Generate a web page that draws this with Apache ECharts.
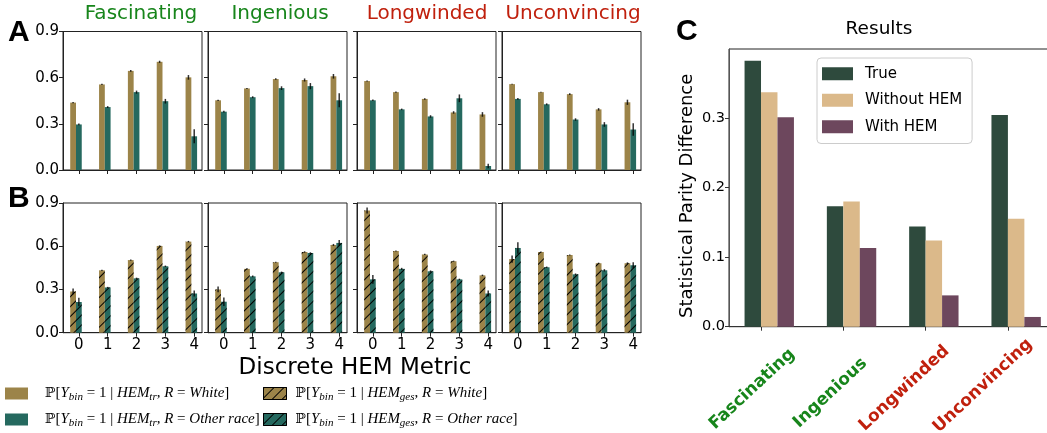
<!DOCTYPE html>
<html><head><meta charset="utf-8">
<script src="https://cdn.jsdelivr.net/npm/echarts@6/dist/echarts.min.js"></script>
<style>html,body{margin:0;padding:0;background:#fff}#c{width:1047px;height:433px}</style>
</head><body><div id="c"></div>
<script>
// ---------------- data ----------------
const hemLevels = [0, 1, 2, 3, 4];
const traits = ['Fascinating', 'Ingenious', 'Longwinded', 'Unconvincing'];
const yTicks = [0, 0.3, 0.6, 0.9];

// Panel A : P[Y=1 | HEM_tr, R]
const trWhite = [
  [0.438, 0.556, 0.644, 0.703, 0.602],
  [0.453, 0.530, 0.591, 0.585, 0.609],
  [0.578, 0.506, 0.462, 0.374, 0.361],
  [0.558, 0.506, 0.493, 0.394, 0.440]
];
const trOther = [
  [0.296, 0.409, 0.506, 0.447, 0.219],
  [0.379, 0.473, 0.532, 0.545, 0.453],
  [0.453, 0.394, 0.348, 0.466, 0.026],
  [0.462, 0.427, 0.328, 0.296, 0.263]
];
const trWhiteErr = [
  [0.004, 0.004, 0.006, 0.007, 0.015],
  [0.004, 0.003, 0.005, 0.010, 0.015],
  [0.003, 0.004, 0.005, 0.008, 0.015],
  [0.003, 0.003, 0.005, 0.008, 0.017]
];
const trOtherErr = [
  [0.006, 0.006, 0.010, 0.015, 0.045],
  [0.006, 0.006, 0.012, 0.020, 0.045],
  [0.005, 0.005, 0.008, 0.025, 0.015],
  [0.006, 0.006, 0.008, 0.015, 0.040]
];
// Panel B : P[Y=1 | HEM_ges, R]
const gesWhite = [
  [0.286, 0.433, 0.504, 0.602, 0.632],
  [0.300, 0.443, 0.489, 0.560, 0.609],
  [0.848, 0.567, 0.543, 0.496, 0.398],
  [0.511, 0.560, 0.539, 0.482, 0.482]
];
const gesOther = [
  [0.213, 0.314, 0.377, 0.461, 0.272],
  [0.215, 0.391, 0.419, 0.553, 0.623],
  [0.370, 0.443, 0.426, 0.370, 0.272],
  [0.588, 0.454, 0.405, 0.433, 0.468]
];
const gesWhiteErr = [
  [0.020, 0.004, 0.004, 0.004, 0.005],
  [0.020, 0.005, 0.003, 0.005, 0.007],
  [0.020, 0.004, 0.004, 0.004, 0.005],
  [0.025, 0.004, 0.004, 0.004, 0.006]
];
const gesOtherErr = [
  [0.030, 0.004, 0.005, 0.005, 0.020],
  [0.030, 0.006, 0.005, 0.005, 0.020],
  [0.030, 0.007, 0.006, 0.005, 0.020],
  [0.040, 0.005, 0.006, 0.008, 0.020]
];
// Panel C : statistical parity difference
const spdTrue = [0.382, 0.173, 0.144, 0.304];
const spdWithout = [0.337, 0.180, 0.124, 0.155];
const spdWith = [0.301, 0.113, 0.045, 0.014];
const cTicks = [0, 0.1, 0.2, 0.3];

// ---------------- styling ----------------
const COL_WHITE = '#9c8449', COL_OTHER = '#25695f';
const COL_TRUE = '#2e4a3d', COL_WITHOUT = '#dbb98a', COL_WITH = '#6d475d';
const GREEN = '#17851b', RED = '#c0200d';
const traitColor = [GREEN, GREEN, RED, RED];
const FONT = 'DejaVu Sans';

const colLeft = [63, 208, 357, 502];
const smallW = 139;
const xMin = -0.55, xMax = 4.27;
const pxPerUnit = smallW / (xMax - xMin);
const bw = 0.2 * pxPerUnit;
const rows = [{top: 31.5, height: 138.5}, {top: 203, height: 129.7}];

const hatch = {
  symbol: 'rect', symbolSize: 1, symbolKeepAspect: false,
  dashArrayX: [10, 0], dashArrayY: [1, 6], rotation: -Math.PI / 4, color: '#000'
};

const grids = [], xAxes = [], yAxes = [], series = [];

function errRender(params, api) {
  const x = api.value(0), y = api.value(1), e = api.value(2);
  const p1 = api.coord([x, y - e]), p2 = api.coord([x, y + e]);
  return {type: 'line', shape: {x1: p1[0], y1: p1[1], x2: p2[0], y2: p2[1]},
    style: {stroke: 'rgba(0,0,0,0.8)', lineWidth: 1.5}};
}

for (let r = 0; r < 2; r++) {
  for (let c = 0; c < 4; c++) {
    const gi = grids.length;
    grids.push({left: colLeft[c], width: smallW, top: rows[r].top, height: rows[r].height,
      show: true, borderColor: '#222', borderWidth: 1, containLabel: false, outerBoundsMode: 'none'});
    xAxes.push({type: 'value', gridIndex: gi, min: xMin, max: xMax,
      splitLine: {show: false},
      axisLine: {show: true, onZero: false, lineStyle: {color: '#222', width: 1}},
      axisTick: {show: true, length: 4, customValues: hemLevels, lineStyle: {color: '#222'}},
      axisLabel: {show: r === 1, customValues: hemLevels, margin: 5,
        fontFamily: FONT, fontSize: 15, color: '#000', formatter: v => String(v)}});
    yAxes.push({type: 'value', gridIndex: gi, min: 0, max: 0.9, interval: 0.3,
      splitLine: {show: false},
      axisLine: {show: true, onZero: false, lineStyle: {color: '#222', width: 1}},
      axisTick: {show: true, length: 4, lineStyle: {color: '#222'}},
      axisLabel: {show: c === 0, margin: 4, fontFamily: FONT, fontSize: 15, color: '#000',
        formatter: v => v.toFixed(1)}});
    const W = r === 0 ? trWhite[c] : gesWhite[c];
    const O = r === 0 ? trOther[c] : gesOther[c];
    const WE = r === 0 ? trWhiteErr[c] : gesWhiteErr[c];
    const OE = r === 0 ? trOtherErr[c] : gesOtherErr[c];
    const deco = r === 1 ? {decal: hatch} : {};
    series.push({type: 'bar', name: r === 0 ? 'wtr' : 'wges', xAxisIndex: gi, yAxisIndex: gi,
      barWidth: bw, barGap: '0%', data: W.map((v, k) => [hemLevels[k] - 0.1, v]),
      itemStyle: Object.assign({color: COL_WHITE}, deco), silent: true});
    series.push({type: 'bar', name: r === 0 ? 'otr' : 'oges', xAxisIndex: gi, yAxisIndex: gi,
      barWidth: bw, barGap: '0%', data: O.map((v, k) => [hemLevels[k] - 0.1, v]),
      itemStyle: Object.assign({color: COL_OTHER}, deco), silent: true});
    const errData = W.map((v, k) => [hemLevels[k] - 0.2, v, WE[k]])
      .concat(O.map((v, k) => [hemLevels[k], v, OE[k]]));
    series.push({type: 'custom', xAxisIndex: gi, yAxisIndex: gi, renderItem: errRender,
      data: errData, encode: {x: 0, y: 1}, z: 5, silent: true});
  }
}

// Panel C
const cGi = grids.length;
const cLeft = 729, cPx = 82.3, cMin = -0.389, cMax = 3.58;
grids.push({left: cLeft, top: 49, width: (cMax - cMin) * cPx, height: 277.7,
  show: true, borderColor: '#222', borderWidth: 1, containLabel: false, outerBoundsMode: 'none'});
const labelFont = {fontFamily: FONT, fontWeight: 'bold', fontSize: 17};
const labelPads = [[6, 30, 0, 0], [6, 41, 0, 0], [0, 47, 12, 0], [0, 49, 21, 0]];
const cRich = {};
labelPads.forEach((p, i) => { cRich['l' + i] = Object.assign({color: traitColor[i], padding: p}, labelFont); });
xAxes.push({type: 'value', gridIndex: cGi, min: cMin, max: cMax,
  splitLine: {show: false},
  axisLine: {show: true, onZero: false, lineStyle: {color: '#333'}},
  axisTick: {show: true, length: 4, customValues: [0, 1, 2, 3], lineStyle: {color: '#333'}},
  axisLabel: {customValues: [0, 1, 2, 3], rotate: 43, align: 'center', verticalAlign: 'middle',
    margin: 50,
    formatter: v => '{l' + v + '|' + traits[v] + '}',
    rich: cRich}});
yAxes.push({type: 'value', gridIndex: cGi, min: 0, max: 0.399,
  splitLine: {show: false},
  axisLine: {show: true, onZero: false, lineStyle: {color: '#555'}},
  axisTick: {show: true, length: 4, customValues: cTicks, lineStyle: {color: '#333'}},
  axisLabel: {customValues: cTicks, margin: 4, fontFamily: FONT, fontSize: 14.5, color: '#000',
    formatter: v => v.toFixed(1)},
  name: 'Statistical Parity Difference', nameLocation: 'middle', nameGap: 33,
  nameTextStyle: {fontFamily: FONT, fontSize: 18, color: '#000', padding: [0, 0, 0, -16]}});
const cbw = 0.2 * cPx;
[['True', spdTrue, COL_TRUE], ['Without HEM', spdWithout, COL_WITHOUT], ['With HEM', spdWith, COL_WITH]]
  .forEach(([name, arr, col]) => {
    series.push({type: 'bar', name: name, xAxisIndex: cGi, yAxisIndex: cGi,
      barWidth: cbw, barGap: '0%', data: arr.map((v, k) => [k + 0.1, v]),
      itemStyle: {color: col}, silent: true});
  });

// ---------------- legends ----------------
const legendText = {
  wtr: ['tr', 'White'], otr: ['tr', 'Other race'],
  wges: ['ges', 'White'], oges: ['ges', 'Other race']
};
function legendFmt(pad) {
  return name => {
    const [sub, race] = legendText[name];
    return '{sp' + pad + '|}{bb|ℙ}{n|[}{i|Y}{s|bin}{n| = 1 | }{i|HEM}{s|' + sub + '}{n|, }{i|R}{n| = }{i|' + race + '}{n|]}';
  };
}
const legendRich = {
  sp1: {width: 12}, sp2: {width: 4},
  bb: {fontFamily: 'DejaVu Serif', fontSize: 14, color: '#000', lineHeight: 19},
  n: {fontFamily: 'Liberation Serif', fontSize: 15, color: '#000', lineHeight: 19},
  i: {fontFamily: 'Liberation Serif', fontStyle: 'italic', fontSize: 15, color: '#000', lineHeight: 19},
  s: {fontFamily: 'Liberation Serif', fontStyle: 'italic', fontSize: 11, color: '#000', lineHeight: 11, verticalAlign: 'bottom'}
};

const option = {
  backgroundColor: '#fff',
  animation: false,
  grid: grids, xAxis: xAxes, yAxis: yAxes, series: series,
  legend: [
    {data: ['wtr', 'otr'], left: 5, top: 386, orient: 'vertical', itemGap: 9, padding: 0,
      icon: 'rect', itemWidth: 23, itemHeight: 12, selectedMode: false,
      formatter: legendFmt(1), textStyle: {rich: legendRich}},
    {data: [{name: 'wges', itemStyle: {borderColor: '#000', borderWidth: 1}},
            {name: 'oges', itemStyle: {borderColor: '#000', borderWidth: 1}}],
      left: 263, top: 386, orient: 'vertical', itemGap: 9, padding: 0,
      icon: 'rect', itemWidth: 23, itemHeight: 12, selectedMode: false,
      formatter: legendFmt(2), textStyle: {rich: legendRich}},
    {data: ['True', 'Without HEM', 'With HEM'], left: 817, top: 58, orient: 'vertical',
      icon: 'rect', itemWidth: 31, itemHeight: 13, itemGap: 9, selectedMode: false,
      padding: [7, 10, 8, 5], borderColor: '#ccc', borderWidth: 1, borderRadius: 4,
      textStyle: {fontFamily: FONT, fontSize: 15, color: '#000', padding: [0, 0, 0, 7], lineHeight: 17.5}}
  ],
  graphic: [
    {type: 'text', left: 8, top: 18, style: {text: 'A', font: '900 30px "Liberation Sans"', fill: '#000'}},
    {type: 'text', left: 8, top: 184, style: {text: 'B', font: '900 30px "Liberation Sans"', fill: '#000'}},
    {type: 'text', left: 676, top: 17, style: {text: 'C', font: '900 30px "Liberation Sans"', fill: '#000'}},
    {type: 'text', x: 879, y: 29, style: {text: 'Results', font: '18.5px "DejaVu Sans"', fill: '#000', textAlign: 'center', textVerticalAlign: 'middle'}},
    {type: 'text', x: 355, y: 368, style: {text: 'Discrete HEM Metric', font: '23px "DejaVu Sans"', fill: '#000', textAlign: 'center', textVerticalAlign: 'middle'}}
  ].concat(traits.map((t, i) => ({type: 'text', x: [141, 280, 427, 573][i], y: 14,
    style: {text: t, font: '20px "DejaVu Sans"', fill: traitColor[i], textAlign: 'center', textVerticalAlign: 'middle'}})))
};

const chart = echarts.init(document.getElementById('c'), null, {renderer: 'canvas'});
chart.setOption(option);
</script>
</body></html>
